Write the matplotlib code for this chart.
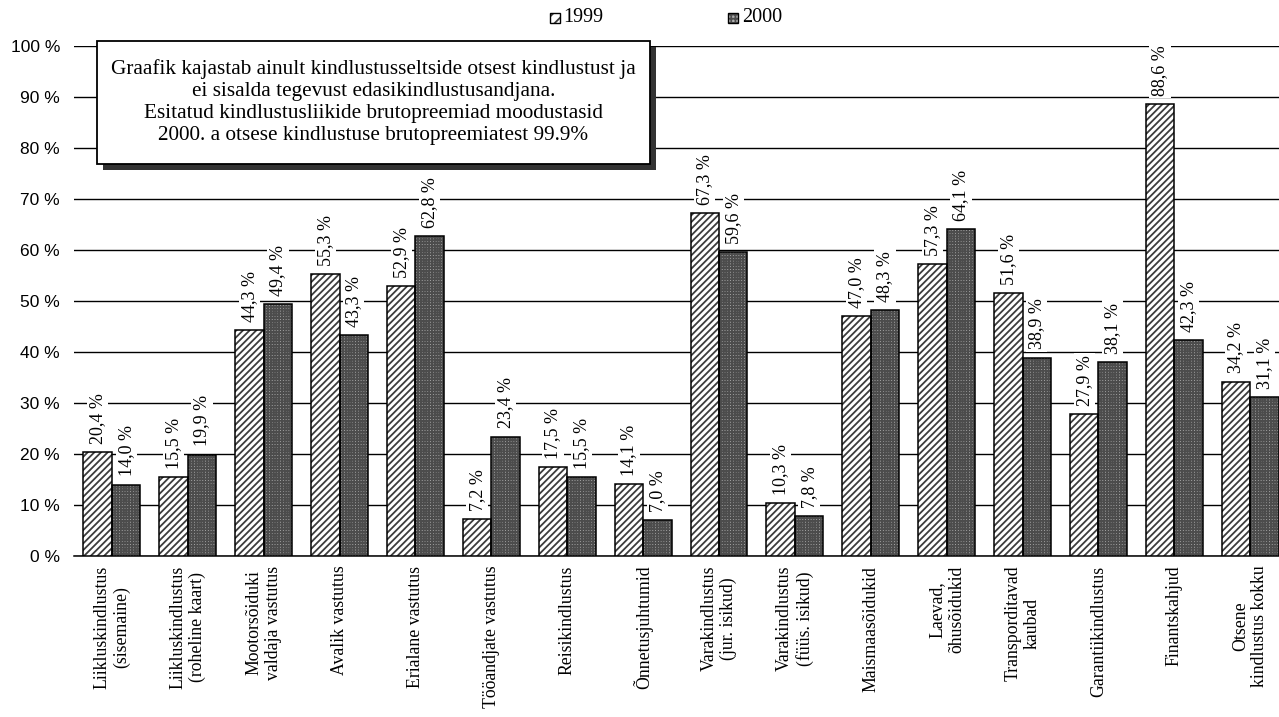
import matplotlib
matplotlib.use("Agg")
import matplotlib.pyplot as plt
import numpy as np
from matplotlib.patches import Rectangle

categories = [
    "Liikluskindlustus\n(sisemaine)", "Liikluskindlustus\n(roheline kaart)",
    "Mootorsõiduki\nvaldaja vastutus", "Avalik vastutus", "Erialane vastutus",
    "Tööandjate vastutus", "Reisikindlustus", "Õnnetusjuhtumid",
    "Varakindlustus\n(jur. isikud)", "Varakindlustus\n(füüs. isikud)",
    "Maismaasõidukid", "Laevad,\nõhusõidukid", "Transporditavad\nkaubad",
    "Garantiikindlustus", "Finantskahjud", "Otsene\nkindlustus kokku",
]
values_1999 = [20.4, 15.5, 44.3, 55.3, 52.9, 7.2, 17.5, 14.1, 67.3, 10.3, 47.0, 57.3, 51.6, 27.9, 88.6, 34.2]
values_2000 = [14.0, 19.9, 49.4, 43.3, 62.8, 23.4, 15.5, 7.0, 59.6, 7.8, 48.3, 64.1, 38.9, 38.1, 42.3, 31.1]
yticks = [0, 10, 20, 30, 40, 50, 60, 70, 80, 90, 100]
series_names = ["1999", "2000"]
note = ("Graafik kajastab ainult kindlustusseltside otsest kindlustust ja\n"
        "ei sisalda tegevust edasikindlustusandjana.\n"
        "Esitatud kindlustusliikide brutopreemiad moodustasid\n"
        "2000. a otsese kindlustuse brutopreemiatest 99.9%")

SERIF = "Liberation Serif"
SANS = "Liberation Sans"
plt.rcParams['hatch.linewidth'] = 1.3

W, H = 1279, 717
fig = plt.figure(figsize=(W/100, H/100), dpi=100)
ax = fig.add_axes([74/W, 1-556/H, (W-74)/W, (556-46)/H])

x = np.arange(len(categories))
w = 0.375
C1999_FACE, C1999_HATCH, H1999 = "white", "#3c3c3c", "/////"
C2000_FACE, C2000_HATCH, H2000 = "#b0b0b0", "#4c4c4c", "++++++"

for xs, vals, fc, hc, hp in [(x - w/2, values_1999, C1999_FACE, C1999_HATCH, H1999),
                             (x + w/2, values_2000, C2000_FACE, C2000_HATCH, H2000)]:
    bars = ax.bar(xs, vals, w, facecolor=fc, edgecolor=hc, hatch=hp, linewidth=0, zorder=3)
    for p in bars:
        ax.add_patch(Rectangle(p.get_xy(), p.get_width(), p.get_height(), fill=False,
                               edgecolor="black", linewidth=1.1, zorder=4))

ax.set_xlim(-0.5, 15.38)
ax.set_ylim(0, 100)
ax.set_yticks(yticks)
ax.set_yticklabels([f"{t} %" for t in yticks], fontfamily=SANS, fontsize=12.5)
ax.yaxis.grid(True, color="black", linewidth=1.0, zorder=0)
ax.tick_params(axis="y", length=0, pad=10)
ax.tick_params(axis="x", length=0, pad=7)
for s in ["top", "right", "left"]:
    ax.spines[s].set_visible(False)
ax.spines["bottom"].set_linewidth(1.1)
ax.set_xticks(x)
ax.set_xticklabels(categories, rotation=90, fontfamily=SERIF, fontsize=12.8,
                   va="top", ha="center", multialignment="center")

def fmt(v):
    return f"{v:.1f}".replace(".", ",") + " %"

for xs, vals in [(x - w/2, values_1999), (x + w/2, values_2000)]:
    for xi, v in zip(xs, vals):
        ax.text(xi, v + 1.6, fmt(v), rotation=90, ha="center", va="bottom",
                fontfamily=SERIF, fontsize=13, zorder=5,
                bbox=dict(facecolor="white", edgecolor="none", pad=1.5))

# note box with shadow
bx0, by0, bx1, by1 = 97, 41, 650, 164
fig.patches.append(Rectangle(((bx0+6)/W, 1-(by1+6)/H), (bx1-bx0)/W, (by1-by0)/H,
                             transform=fig.transFigure, facecolor="#333333",
                             edgecolor="none", zorder=5))
fig.patches.append(Rectangle((bx0/W, 1-by1/H), (bx1-bx0)/W, (by1-by0)/H,
                             transform=fig.transFigure, facecolor="white",
                             edgecolor="black", linewidth=1.3, zorder=6))
fig.text((bx0+bx1)/2/W, 1-102/H, note, ha="center", va="center",
         fontfamily=SERIF, fontsize=15.3, linespacing=1.22, zorder=7)

# legend
for px, tx, name, fc, hc, hp in [(550, 563, series_names[0], C1999_FACE, C1999_HATCH, "///"),
                                 (728, 742, series_names[1], C2000_FACE, C2000_HATCH, "++++")]:
    fig.patches.append(Rectangle((px/W, 1-23/H), 10/W, 10/H, transform=fig.transFigure,
                                 facecolor=fc, edgecolor=hc, hatch=hp, linewidth=0))
    fig.patches.append(Rectangle((px/W, 1-23/H), 10/W, 10/H, transform=fig.transFigure,
                                 fill=False, edgecolor="black", linewidth=1.0))
    fig.text(tx/W, 1-18/H, name, fontfamily=SERIF, fontsize=14.5, va="center")

fig.savefig("out.png", dpi=100)
